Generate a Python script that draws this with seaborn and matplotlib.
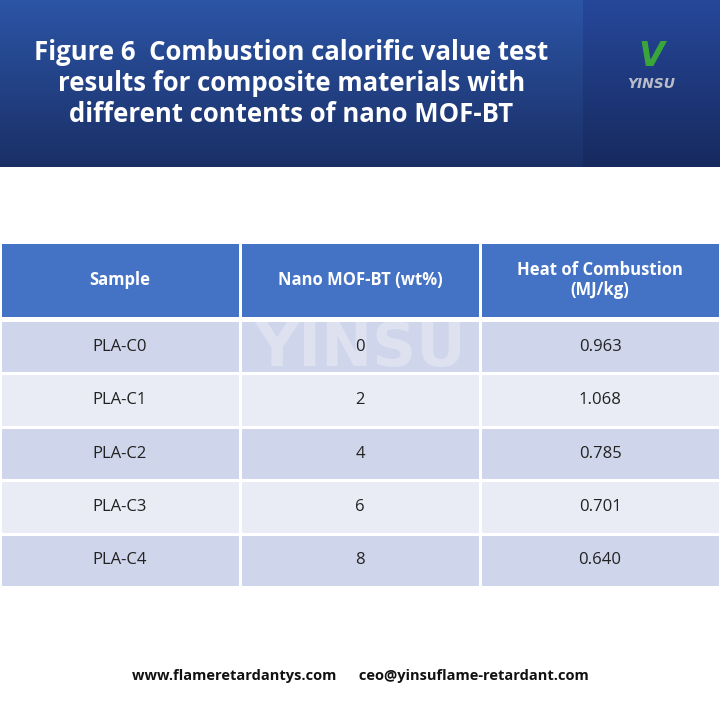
import numpy as np
import pandas as pd
import matplotlib.pyplot as plt
import seaborn as sns
from matplotlib.colors import ListedColormap

title = "Figure 6  Combustion calorific value test\nresults for composite materials with\ndifferent contents of nano MOF-BT"
columns = ["Sample", "Nano MOF-BT (wt%)", "Heat of Combustion\n(MJ/kg)"]
samples = ["PLA-C0", "PLA-C1", "PLA-C2", "PLA-C3", "PLA-C4"]
contents = ["0", "2", "4", "6", "8"]
heat = ["0.963", "1.068", "0.785", "0.701", "0.640"]
footer = "www.flameretardantys.com      ceo@yinsuflame-retardant.com"

W = H = 720
fig = plt.figure(figsize=(7.2, 7.2), dpi=100)
fig.patch.set_facecolor("white")

def box(x0, y0, x1, y1):
    return [x0 / W, 1 - y1 / H, (x1 - x0) / W, (y1 - y0) / H]

# banner
ax = fig.add_axes(box(0, 0, 583, 167))
grad = np.linspace(0, 1, 256)[:, None]
ax.imshow(grad, aspect="auto", cmap=ListedColormap(sns.blend_palette(["#2c55a6", "#1a2f66"], 256)),
          extent=[0, 1, 0, 1])
ax.axis("off")
ax.text(0.5, 0.5, title, color="white", fontsize=18.5, fontweight="bold",
        ha="center", va="center", linespacing=1.2, family="Open Sans")
ax2 = fig.add_axes(box(583, 0, 720, 167))
ax2.imshow(grad, aspect="auto", cmap=ListedColormap(sns.blend_palette(["#26479a", "#172a5e"], 256)),
           extent=[0, 1, 0, 1])
ax2.axis("off")
ax2.text(0.5, 0.66, "V", color="#3aa63a", fontsize=24, fontweight="bold",
         ha="center", va="center", style="italic")
ax2.text(0.5, 0.5, "YINSU", color="#b8bcc8", fontsize=10, fontweight="bold",
         ha="center", va="center", style="italic")

# header row
hax = fig.add_axes(box(0, 242, 720, 318))
sns.heatmap(np.zeros((1, 3)), ax=hax, cmap=ListedColormap(["#4472c4"]), cbar=False,
            annot=np.array([columns]), fmt="", linewidths=1, linecolor="white",
            annot_kws={"color": "white", "fontsize": 12, "fontweight": "bold",
                       "family": "Open Sans"})
hax.set_xticks([]); hax.set_yticks([])

# body
table = pd.DataFrame({"s": samples, "c": contents, "h": heat})
shade = np.array([[i % 2] * 3 for i in range(len(samples))])
bax = fig.add_axes(box(0, 320, 720, 587))
sns.heatmap(shade, ax=bax, cmap=ListedColormap(["#cfd5ea", "#e9ebf5"]), cbar=False,
            annot=table.values, fmt="", linewidths=1, linecolor="white",
            annot_kws={"color": "#222222", "fontsize": 12, "family": "Open Sans"})
bax.set_xticks([]); bax.set_yticks([])
bax.text(1.5, 0.55, "YINSU", color="white", alpha=0.3, fontsize=44,
         fontweight="bold", ha="center", va="center", zorder=1)

fig.text(0.5, 1 - 676 / H, footer, color="#111111", fontsize=10.5, fontweight="bold",
         ha="center", va="center", family="Open Sans")

fig.savefig("out.png", dpi=100)
